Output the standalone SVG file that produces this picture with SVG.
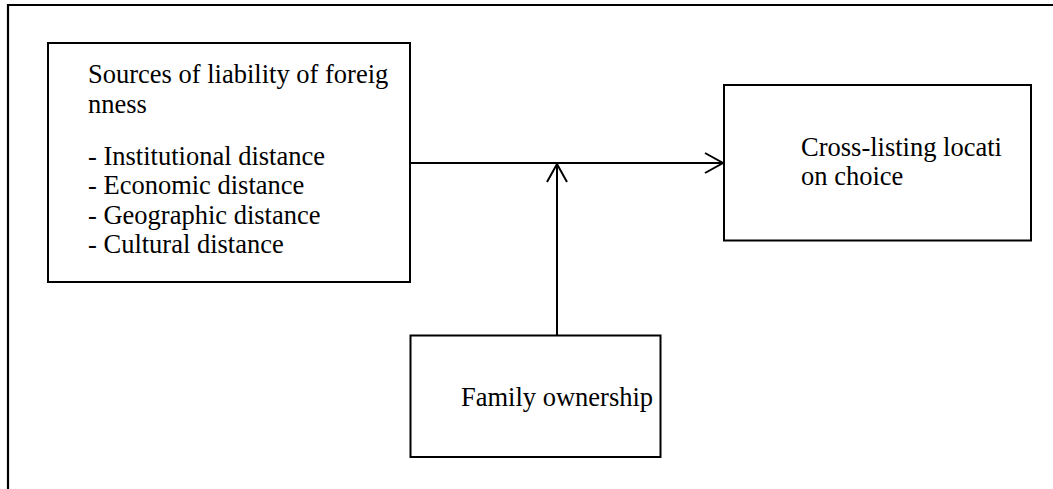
<svg xmlns="http://www.w3.org/2000/svg" width="1053" height="489" viewBox="0 0 1053 489">
<defs>
<style>
.box{fill:#fff;stroke:#000;stroke-width:2}
.frame{fill:none;stroke:#000;stroke-width:2.2}
.conn{fill:none;stroke:#000;stroke-width:2}
.t{font-family:"Liberation Serif","Times New Roman",serif;font-size:26.5px;fill:#000}
</style>
<marker id="arr" markerWidth="24" markerHeight="24" viewBox="-20 -12 24 24" refX="0" refY="0" orient="auto" markerUnits="userSpaceOnUse">
<path d="M-18,-10 L0,0 L-18,10" fill="none" stroke="#000" stroke-width="2"/>
</marker>
</defs>
<rect width="1053" height="489" fill="#fff"/>
<path class="frame" d="M8,489 L8,5 L1053,5"/>
<g id="connectors">
<line class="conn" x1="410" y1="163" x2="723" y2="163" marker-end="url(#arr)"/>
<line class="conn" x1="557" y1="335" x2="557" y2="164" marker-end="url(#arr)"/>
</g>
<g id="node-sources">
<rect class="box" x="48" y="43" width="362" height="239"/>
<text class="t" x="88" y="83">Sources of liability of foreig</text>
<text class="t" x="88" y="112.5">nness</text>
<text class="t" x="88" y="164.5">- Institutional distance</text>
<text class="t" x="88" y="194">- Economic distance</text>
<text class="t" x="88" y="223.5">- Geographic distance</text>
<text class="t" x="88" y="253">- Cultural distance</text>
</g>
<g id="node-crosslisting">
<rect class="box" x="724" y="85" width="307" height="155.5"/>
<text class="t" x="801" y="155.5">Cross-listing locati</text>
<text class="t" x="801" y="185">on choice</text>
</g>
<g id="node-family">
<rect class="box" x="410.5" y="335.5" width="250" height="121.5"/>
<text class="t" x="461" y="406">Family ownership</text>
</g>
</svg>
